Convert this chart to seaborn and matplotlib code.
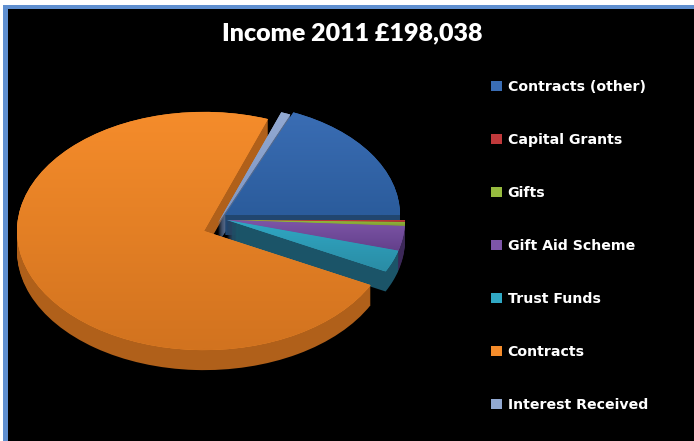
import numpy as np
import matplotlib
matplotlib.use("Agg")
import matplotlib.pyplot as plt
from matplotlib.patches import Patch, Rectangle
from matplotlib.colors import to_rgb
import seaborn as sns

# Income by source, pounds
categories = ["Contracts (other)", "Capital Grants", "Gifts", "Gift Aid Scheme",
              "Trust Funds", "Contracts", "Interest Received"]
income = [36860, 550, 1100, 6987, 6216, 144675, 1650]
title = "Income 2011 £198,038"

top_light = ["#3a6db4", "#c0393b", "#97bb3f", "#7d55a8", "#30a8c4", "#f58c2b", "#92a9d2"]
top_dark = ["#2b5c9c", "#a02a2c", "#7e9d30", "#63408a", "#2a8ca5", "#d2731f", "#7d96c4"]
wall_colors = ["#21466f", "#6e1c1e", "#566b20", "#3c2858", "#1b5468", "#b0601a", "#566a8c"]

sns.set_theme(style="dark")
W, H = 694, 441
SQUASH = 0.637  # vertical foreshortening of the tilted disc


def ypix(py):
    return (H - py) / SQUASH


# Each wedge is pulled away from the hub: tip position in canvas pixels, and its radius
tips = [(225, 215), (227, 220), (227, 220), (227, 220), (227, 220), (204, 231), (218, 223)]
radii = [175, 178, 178, 178, 178, 187, 185]
DEPTH = 20


def draw_pie(colors, drop, zorder):
    wedges, _ = ax.pie(income, colors=sns.color_palette(colors), startangle=67,
                       counterclock=False, wedgeprops={"zorder": zorder, "linewidth": 0})
    for w, (tx, ty), r in zip(wedges, tips, radii):
        w.set_center((tx, ypix(ty + drop)))
        w.set_radius(r)
    return wedges


fig = plt.figure(figsize=(W / 100, H / 100), dpi=100, facecolor="white")
fig.patches.append(Rectangle((3 / W, 0), 1, 1 - 5 / H, transform=fig.transFigure,
                             facecolor="#5f8fd0", edgecolor="none", zorder=-3))
fig.patches.append(Rectangle((7.5 / W, 0), 1, 1 - 8.5 / H, transform=fig.transFigure,
                             facecolor="black", edgecolor="none", zorder=-2))
ax = fig.add_axes([0, 0, 1, 1])
ax.patch.set_alpha(0)

# Side walls: stacked copies of the pie, lowest first
for d in range(DEPTH, 0, -1):
    draw_pie(wall_colors, d, 2)

# Top face with a vertical shade on every wedge
wedges = draw_pie(top_light, 0, 3)


def fix_limits():
    ax.set_xlim(0, W)
    ax.set_ylim(0, H / SQUASH)
    ax.set_aspect("auto")


fix_limits()
ax.set_axis_off()
fig.canvas.draw()
for w, light, dark in zip(wedges, top_light, top_dark):
    bb = w.get_window_extent().transformed(ax.transData.inverted())
    grad = np.linspace(to_rgb(light), to_rgb(dark), 64)[:, None, :]
    im = ax.imshow(grad, extent=(bb.x0, bb.x1, bb.y0, bb.y1), origin="upper",
                   aspect="auto", zorder=4, interpolation="bilinear")
    im.set_clip_path(w)
fix_limits()

fig.text(352 / W, 1 - 33 / H, title, color="white", ha="center", va="center",
         family="Lato", weight="heavy", fontsize=18)

handles = [Patch(facecolor=c, edgecolor="none") for c in top_light]
fig.legend(handles=handles, labels=categories, loc="upper left",
           bbox_to_anchor=(491 / W, 1 - 80 / H), bbox_transform=fig.transFigure,
           frameon=False, borderpad=0, borderaxespad=0, handlelength=0.8, handleheight=0.7,
           handletextpad=0.37, labelspacing=2.75, labelcolor="white",
           prop={"family": "DejaVu Sans", "weight": "bold", "size": 10.2})

fig.savefig("out.png", dpi=100, facecolor="white")
